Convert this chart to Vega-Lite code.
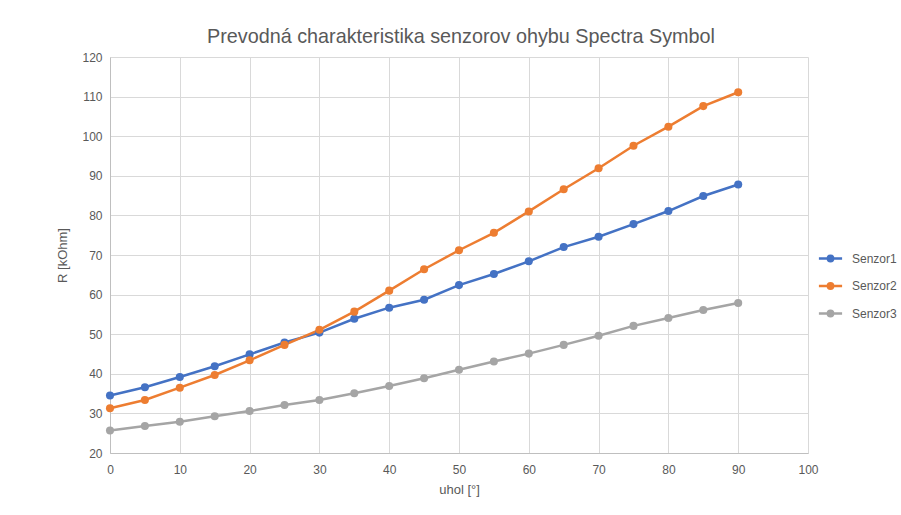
{
  "$schema": "https://vega.github.io/schema/vega-lite/v6.json",
  "autosize": "none",
  "width": 698,
  "height": 396,
  "padding": {"left": 110, "top": 57, "right": 93, "bottom": 62},
  "background": "white",
  "title": {
    "text": "Prevodná charakteristika senzorov ohybu Spectra Symbol",
    "font": "Liberation Sans",
    "fontSize": 19.8,
    "fontWeight": "normal",
    "color": "#595959",
    "anchor": "middle",
    "offset": 4,
    "frame": "group",
    "dx": 2
  },
  "config": {
    "view": {"stroke": null},
    "font": "Liberation Sans",
    "axis": {
      "labelFont": "Liberation Sans",
      "labelFontSize": 12,
      "labelColor": "#595959",
      "titleFont": "Liberation Sans",
      "titleFontSize": 13,
      "titleFontWeight": "normal",
      "titleColor": "#595959",
      "gridColor": "#d9d9d9",
      "gridWidth": 1,
      "domainColor": "#bfbfbf",
      "ticks": false,
      "labelFlush": false
    }
  },
  "datasets": {
    "pts": [
      {"uhol": 0, "senzor": "Senzor1", "R": 34.5},
      {"uhol": 5, "senzor": "Senzor1", "R": 36.6},
      {"uhol": 10, "senzor": "Senzor1", "R": 39.2},
      {"uhol": 15, "senzor": "Senzor1", "R": 41.9},
      {"uhol": 20, "senzor": "Senzor1", "R": 44.9},
      {"uhol": 25, "senzor": "Senzor1", "R": 47.9},
      {"uhol": 30, "senzor": "Senzor1", "R": 50.4},
      {"uhol": 35, "senzor": "Senzor1", "R": 53.9},
      {"uhol": 40, "senzor": "Senzor1", "R": 56.7},
      {"uhol": 45, "senzor": "Senzor1", "R": 58.7},
      {"uhol": 50, "senzor": "Senzor1", "R": 62.4},
      {"uhol": 55, "senzor": "Senzor1", "R": 65.2},
      {"uhol": 60, "senzor": "Senzor1", "R": 68.4},
      {"uhol": 65, "senzor": "Senzor1", "R": 72.0},
      {"uhol": 70, "senzor": "Senzor1", "R": 74.6},
      {"uhol": 75, "senzor": "Senzor1", "R": 77.8},
      {"uhol": 80, "senzor": "Senzor1", "R": 81.1},
      {"uhol": 85, "senzor": "Senzor1", "R": 84.9},
      {"uhol": 90, "senzor": "Senzor1", "R": 87.8},
      {"uhol": 0, "senzor": "Senzor2", "R": 31.3},
      {"uhol": 5, "senzor": "Senzor2", "R": 33.4},
      {"uhol": 10, "senzor": "Senzor2", "R": 36.5},
      {"uhol": 15, "senzor": "Senzor2", "R": 39.7},
      {"uhol": 20, "senzor": "Senzor2", "R": 43.4},
      {"uhol": 25, "senzor": "Senzor2", "R": 47.3},
      {"uhol": 30, "senzor": "Senzor2", "R": 51.1},
      {"uhol": 35, "senzor": "Senzor2", "R": 55.7},
      {"uhol": 40, "senzor": "Senzor2", "R": 61.0},
      {"uhol": 45, "senzor": "Senzor2", "R": 66.4},
      {"uhol": 50, "senzor": "Senzor2", "R": 71.2},
      {"uhol": 55, "senzor": "Senzor2", "R": 75.6},
      {"uhol": 60, "senzor": "Senzor2", "R": 81.0},
      {"uhol": 65, "senzor": "Senzor2", "R": 86.6},
      {"uhol": 70, "senzor": "Senzor2", "R": 91.9},
      {"uhol": 75, "senzor": "Senzor2", "R": 97.6},
      {"uhol": 80, "senzor": "Senzor2", "R": 102.4},
      {"uhol": 85, "senzor": "Senzor2", "R": 107.6},
      {"uhol": 90, "senzor": "Senzor2", "R": 111.1},
      {"uhol": 0, "senzor": "Senzor3", "R": 25.7},
      {"uhol": 5, "senzor": "Senzor3", "R": 26.8},
      {"uhol": 10, "senzor": "Senzor3", "R": 27.9},
      {"uhol": 15, "senzor": "Senzor3", "R": 29.3},
      {"uhol": 20, "senzor": "Senzor3", "R": 30.6},
      {"uhol": 25, "senzor": "Senzor3", "R": 32.1},
      {"uhol": 30, "senzor": "Senzor3", "R": 33.4},
      {"uhol": 35, "senzor": "Senzor3", "R": 35.1},
      {"uhol": 40, "senzor": "Senzor3", "R": 36.9},
      {"uhol": 45, "senzor": "Senzor3", "R": 38.9},
      {"uhol": 50, "senzor": "Senzor3", "R": 41.0},
      {"uhol": 55, "senzor": "Senzor3", "R": 43.1},
      {"uhol": 60, "senzor": "Senzor3", "R": 45.1},
      {"uhol": 65, "senzor": "Senzor3", "R": 47.3},
      {"uhol": 70, "senzor": "Senzor3", "R": 49.6},
      {"uhol": 75, "senzor": "Senzor3", "R": 52.1},
      {"uhol": 80, "senzor": "Senzor3", "R": 54.1},
      {"uhol": 85, "senzor": "Senzor3", "R": 56.1},
      {"uhol": 90, "senzor": "Senzor3", "R": 57.9}
    ]
  },
  "data": {"name": "pts"},
  "mark": {
    "type": "line",
    "strokeWidth": 2.5,
    "point": {"filled": true, "size": 65}
  },
  "encoding": {
    "x": {
      "field": "uhol",
      "type": "quantitative",
      "title": "uhol [°]",
      "scale": {"domain": [0, 100], "nice": false},
      "axis": {"values": [0, 10, 20, 30, 40, 50, 60, 70, 80, 90, 100], "labelPadding": 11, "titlePadding": 8}
    },
    "y": {
      "field": "R",
      "type": "quantitative",
      "title": "R [kOhm]",
      "scale": {"domain": [20, 120], "nice": false, "zero": false},
      "axis": {"values": [20, 30, 40, 50, 60, 70, 80, 90, 100, 110, 120], "labelPadding": 8, "titlePadding": 12, "domain": true}
    },
    "color": {
      "field": "senzor",
      "type": "nominal",
      "scale": {"domain": ["Senzor1", "Senzor2", "Senzor3"], "range": ["#4472C4", "#ED7D31", "#A5A5A5"]},
      "legend": {
        "title": null,
        "orient": "none",
        "legendX": 711,
        "legendY": 192,
        "labelFont": "Liberation Sans",
        "labelFontSize": 12,
        "labelColor": "#595959",
        "symbolType": "M-1.45,0L1.45,0M-0.33,0A0.33,0.33,0,1,1,0.33,0A0.33,0.33,0,1,1,-0.33,0Z",
        "symbolSize": 256,
        "symbolStrokeWidth": 2.5,
        "rowPadding": 9.5,
        "labelOffset": 12,
        "encode": {
          "symbols": {
            "update": {
              "stroke": {"scale": "color", "field": "value"},
              "fill": {"scale": "color", "field": "value"},
              "strokeWidth": {"value": 2.5},
              "opacity": {"value": 1}
            }
          }
        }
      }
    }
  }
}
